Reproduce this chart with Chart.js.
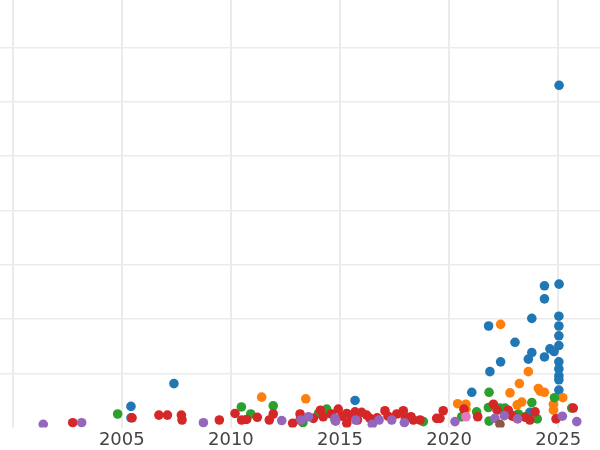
<!DOCTYPE html>
<html>
<head>
<meta charset="utf-8">
<script src="https://cdn.jsdelivr.net/npm/chart.js@4/dist/chart.umd.min.js"></script>
<style>
  html, body { margin: 0; padding: 0; background: #ffffff; }
  #wrap { width: 600px; height: 450px; position: relative; }
</style>
</head>
<body>
<div id="wrap"><canvas id="c"></canvas></div>
<script>
// ---- data: [year, value] ----
const seriesBlue = [
  [2025.04, 6.30], [2024.37, 2.61], [2025.04, 2.64], [2024.37, 2.37],
  [2021.81, 1.87], [2023.79, 2.01], [2025.03, 2.05], [2025.03, 1.87],
  [2025.03, 1.69], [2025.03, 1.51], [2023.02, 1.57], [2023.79, 1.38],
  [2023.63, 1.26], [2024.62, 1.45], [2024.81, 1.40], [2024.37, 1.30],
  [2022.36, 1.21], [2021.87, 1.03], [2025.03, 1.21], [2025.03, 1.08],
  [2025.03, 0.95], [2025.03, 0.88], [2025.03, 0.69], [2021.04, 0.65],
  [2007.39, 0.81], [2005.42, 0.39], [2005.42, 0.18], [2015.69, 0.50],
  [2023.70, 0.28]
];
const seriesOrange = [
  [2022.36, 1.90], [2023.63, 1.03], [2023.22, 0.81], [2022.79, 0.64],
  [2024.09, 0.72], [2024.17, 0.67], [2024.37, 0.65], [2025.21, 0.55],
  [2023.33, 0.47], [2023.12, 0.42], [2020.39, 0.44], [2020.77, 0.43],
  [2024.78, 0.43], [2020.77, 0.34], [2024.78, 0.32], [2011.41, 0.56],
  [2013.43, 0.53]
];
const seriesGreen = [
  [2004.81, 0.25], [2010.48, 0.38], [2010.91, 0.25], [2011.94, 0.40],
  [2014.39, 0.34], [2014.01, 0.26], [2013.30, 0.09], [2014.77, 0.14],
  [2018.82, 0.11], [2021.83, 0.65], [2024.83, 0.55], [2023.79, 0.46],
  [2025.62, 0.36], [2021.80, 0.37], [2022.33, 0.36], [2022.56, 0.36],
  [2021.26, 0.29], [2020.58, 0.20], [2021.83, 0.12], [2024.04, 0.16],
  [2023.17, 0.25], [2022.90, 0.22], [2023.50, 0.20]
];
const seriesRed = [
  [2002.75, 0.09], [2005.47, 0.18], [2006.70, 0.23], [2007.09, 0.23],
  [2007.73, 0.23], [2007.76, 0.14], [2009.47, 0.14], [2010.19, 0.26],
  [2010.49, 0.14], [2010.72, 0.15], [2011.21, 0.19], [2011.76, 0.14],
  [2011.94, 0.25], [2012.83, 0.08], [2013.17, 0.25], [2013.78, 0.17],
  [2014.23, 0.20], [2014.92, 0.34], [2015.31, 0.26], [2015.31, 0.08],
  [2015.69, 0.29], [2015.99, 0.28], [2016.22, 0.23], [2016.37, 0.17],
  [2016.70, 0.18], [2017.06, 0.31], [2017.20, 0.21], [2017.90, 0.31],
  [2017.98, 0.20], [2018.25, 0.20], [2018.36, 0.14], [2018.67, 0.14],
  [2019.43, 0.17], [2019.73, 0.31], [2019.58, 0.17], [2020.68, 0.34],
  [2021.31, 0.20], [2022.03, 0.43], [2022.20, 0.32], [2022.71, 0.32],
  [2022.90, 0.21], [2023.10, 0.18], [2023.50, 0.19], [2023.94, 0.29],
  [2023.70, 0.14], [2024.90, 0.16], [2025.69, 0.36], [2014.10, 0.32],
  [2014.60, 0.25], [2015.10, 0.21], [2015.50, 0.21], [2015.80, 0.14],
  [2017.60, 0.25], [2013.17, 0.14]
];
const seriesPurple = [
  [2001.40, 0.06], [2003.16, 0.09], [2008.74, 0.09], [2012.33, 0.13],
  [2013.21, 0.14], [2013.55, 0.20], [2014.77, 0.17], [2014.80, 0.12],
  [2015.72, 0.14], [2016.48, 0.06], [2016.79, 0.14], [2017.37, 0.14],
  [2017.95, 0.09], [2020.27, 0.11], [2022.10, 0.17], [2022.53, 0.22],
  [2023.14, 0.16], [2025.19, 0.21], [2025.85, 0.11]
];
const seriesBrown = [[2022.33, 0.06]];
const seriesPink = [[2020.77, 0.20]];

const tickYears = [2000, 2005, 2010, 2015, 2020, 2025];
const hiddenTickYears = [2000];
const gridValues = [1, 2, 3, 4, 5, 6, 7];

// ---- chart ----
const toPts = arr => arr.map(p => ({ x: p[0], y: p[1] }));
const mk = (data, color) => ({
  data: toPts(data),
  backgroundColor: color,
  borderWidth: 0,
  pointRadius: 4.8,
  pointHoverRadius: 4.8,
  clip: 0
});

new Chart(document.getElementById('c'), {
  type: 'scatter',
  data: {
    // first dataset is drawn on top in Chart.js
    datasets: [
      mk(seriesPink, '#e377c2'),
      mk(seriesBrown, '#8c564b'),
      mk(seriesPurple, '#9467bd'),
      mk(seriesRed, '#d62728'),
      mk(seriesGreen, '#2ca02c'),
      mk(seriesOrange, '#ff7f0e'),
      mk(seriesBlue, '#1f77b4')
    ]
  },
  options: {
    responsive: true,
    maintainAspectRatio: false,
    animation: false,
    layout: { padding: 0, autoPadding: false },
    plugins: { legend: { display: false }, tooltip: { enabled: false } },
    scales: {
      x: {
        type: 'linear',
        min: 1999.418,
        max: 2026.915,
        afterBuildTicks: s => { s.ticks = tickYears.map(v => ({ value: v })); },
        afterFit: s => { s.height = 22.4; },
        ticks: {
          autoSkip: false,
          maxRotation: 0,
          padding: 3,
          color: '#444444',
          font: { family: 'DejaVu Sans', size: 18, lineHeight: 1.05 },
          callback: v => hiddenTickYears.includes(v) ? '' : String(v)
        },
        grid: { color: '#ebebeb', lineWidth: 2, drawTicks: false },
        border: { display: false }
      },
      y: {
        type: 'linear',
        min: 0,
        max: 7.87,
        afterBuildTicks: s => { s.ticks = gridValues.map(v => ({ value: v })); },
        afterFit: s => { s.width = 0; },
        ticks: { display: false },
        grid: { color: '#ebebeb', lineWidth: 1.5, drawTicks: false },
        border: { display: false }
      }
    }
  }
});
</script>
</body>
</html>
